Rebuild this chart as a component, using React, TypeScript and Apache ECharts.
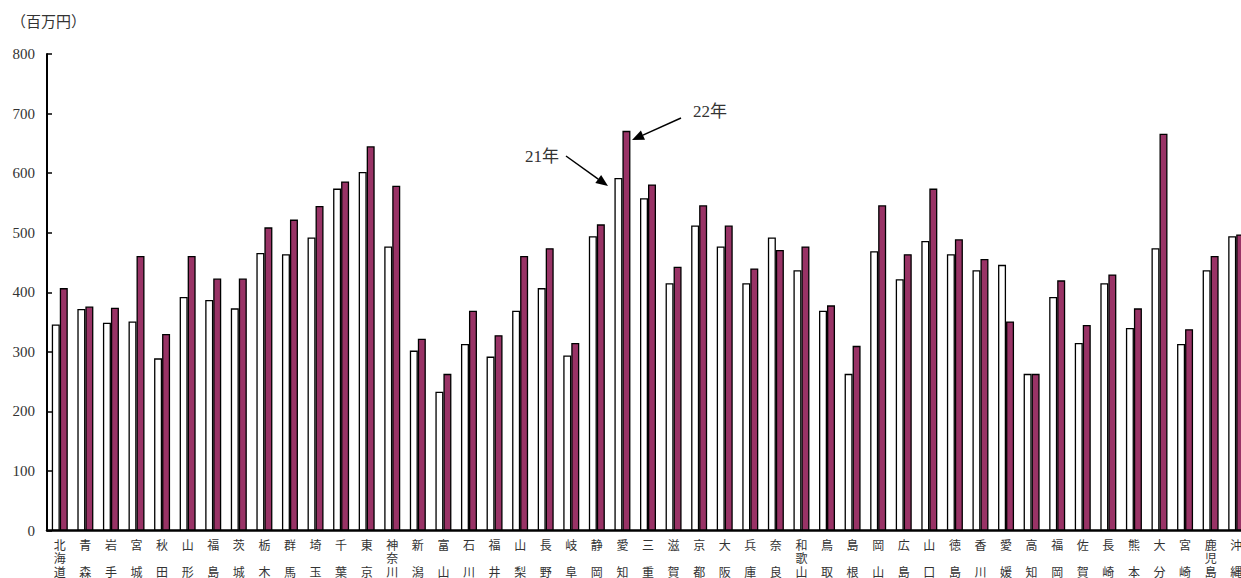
import React, { useEffect, useRef } from "react";
import * as echarts from "echarts";

const categories = [
  "北海道", "青森", "岩手", "宮城", "秋田", "山形", "福島", "茨城", "栃木", "群馬",
  "埼玉", "千葉", "東京", "神奈川", "新潟", "富山", "石川", "福井", "山梨", "長野",
  "岐阜", "静岡", "愛知", "三重", "滋賀", "京都", "大阪", "兵庫", "奈良", "和歌山",
  "鳥取", "島根", "岡山", "広島", "山口", "徳島", "香川", "愛媛", "高知", "福岡",
  "佐賀", "長崎", "熊本", "大分", "宮崎", "鹿児島", "沖縄",
];

const values21 = [
  346, 372, 349, 351, 289, 392, 387, 373, 466, 464,
  492, 574, 602, 477, 302, 233, 313, 292, 369, 407,
  294, 494, 592, 558, 415, 512, 477, 415, 492, 437,
  369, 263, 469, 422, 486, 464, 437, 446, 263, 392,
  315, 415, 340, 474, 313, 437, 494,
];

const values22 = [
  407, 376, 374, 461, 330, 461, 423, 423, 509, 522,
  545, 586, 645, 579, 322, 263, 369, 328, 461, 474,
  315, 514, 671, 581, 443, 546, 512, 440, 471, 477,
  378, 310, 546, 464, 574, 489, 456, 351, 263, 420,
  345, 430, 373, 666, 338, 461, 497,
];

const yTicks = { min: 0, max: 800, interval: 100 };
const unitLabel = "（百万円）";
const seriesNames = ["21年", "22年"];

const serifFont = "'Liberation Serif', 'DejaVu Serif', 'Noto Sans CJK JP', serif";
const cjkFont = "'Noto Sans CJK JP', sans-serif";

function arrow(x1: number, y1: number, x2: number, y2: number) {
  const dx = x2 - x1;
  const dy = y2 - y1;
  const len = Math.sqrt(dx * dx + dy * dy);
  const ux = dx / len;
  const uy = dy / len;
  const headLen = 12;
  const headHalf = 5;
  const bx = x2 - ux * headLen;
  const by = y2 - uy * headLen;
  const px = -uy * headHalf;
  const py = ux * headHalf;
  return [
    {
      type: "line",
      shape: { x1, y1, x2: bx, y2: by },
      style: { stroke: "#000", lineWidth: 1.5 },
      silent: true,
    },
    {
      type: "polygon",
      shape: {
        points: [
          [x2, y2],
          [bx + px, by + py],
          [bx - px, by - py],
        ],
      },
      style: { fill: "#000" },
      silent: true,
    },
  ];
}

export default function App() {
  const ref = useRef<HTMLDivElement>(null);

  useEffect(() => {
    if (!ref.current) return;
    const chart = echarts.init(ref.current, undefined, { renderer: "svg" });
    const option: any = {
      animation: false,
      backgroundColor: "#fff",
      grid: { left: 47, right: 11, top: 54, bottom: 46 },
      xAxis: {
        type: "category",
        data: categories,
        axisLine: { lineStyle: { color: "#000", width: 2.5 } },
        axisTick: {
          inside: true,
          length: 4,
          interval: 0,
          lineStyle: { color: "#000", width: 2 },
        },
        axisLabel: {
          interval: 0,
          margin: 7,
          fontFamily: cjkFont,
          fontSize: 12,
          lineHeight: 13.5,
          color: "#333",
          formatter: (v: string) => {
            const chars = v.split("");
            if (chars.length === 2) return chars[0] + "\n\n" + chars[1];
            return chars.join("\n");
          },
        },
      },
      yAxis: {
        type: "value",
        min: yTicks.min,
        max: yTicks.max,
        interval: yTicks.interval,
        splitLine: { show: false },
        axisLine: { show: true, lineStyle: { color: "#000", width: 2 } },
        axisTick: {
          show: true,
          inside: true,
          length: 5,
          lineStyle: { color: "#000", width: 1.5 },
        },
        axisLabel: {
          margin: 12,
          fontFamily: serifFont,
          fontSize: 15,
          color: "#333",
        },
      },
      series: [
        {
          name: seriesNames[0],
          type: "bar",
          data: values21,
          barWidth: 8,
          barGap: "0%",
          itemStyle: { color: "#ffffff", borderColor: "#000", borderWidth: 1.3 },
        },
        {
          name: seriesNames[1],
          type: "bar",
          data: values22,
          barWidth: 8,
          barGap: "0%",
          itemStyle: { color: "#993366", borderColor: "#000", borderWidth: 1.3 },
        },
      ],
      graphic: [
        {
          type: "text",
          left: 11,
          top: 13,
          style: { text: unitLabel, fontFamily: cjkFont, fontSize: 15, fill: "#333" },
        },
        {
          type: "text",
          x: 525,
          y: 148,
          style: { text: seriesNames[0], fontFamily: serifFont, fontSize: 17, fill: "#333" },
        },
        {
          type: "text",
          x: 693,
          y: 103,
          style: { text: seriesNames[1], fontFamily: serifFont, fontSize: 17, fill: "#333" },
        },
        ...arrow(566, 156, 608, 186),
        ...arrow(681, 118, 632, 140),
      ],
    };
    chart.setOption(option);
    return () => chart.dispose();
  }, []);

  return (
    <div
      style={{
        position: "fixed",
        left: 0,
        top: 0,
        width: 1241,
        height: 578,
        overflow: "hidden",
        background: "#fff",
      }}
    >
      <div ref={ref} style={{ width: 1260, height: 578 }} />
    </div>
  );
}
